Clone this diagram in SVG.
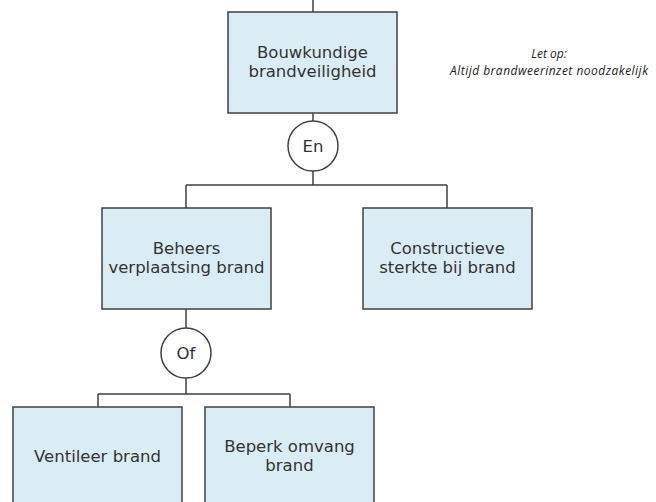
<svg xmlns="http://www.w3.org/2000/svg" width="656" height="502" viewBox="0 0 656 502">
<style>
.box{fill:#dbedf4;stroke:#404040;stroke-width:1.5}
.gate{fill:#ffffff;stroke:#404040;stroke-width:1.5}
.lbl{font-family:"DejaVu Sans",Verdana,sans-serif;font-size:16.5px;fill:#333333;text-anchor:middle}
.note{font-family:"Open Sans","Liberation Sans",sans-serif;font-style:italic;font-size:12px;font-weight:500;fill:#222222;text-anchor:middle}
.conn{fill:none;stroke:#404040;stroke-width:1.5}
</style>
<rect width="656" height="502" fill="#ffffff"/>
<g id="connectors">
<path class="conn" d="M313 0V12"/>
<path class="conn" d="M313 113V121"/>
<path class="conn" d="M313 171V185M186 185H447M186 185V208M447 185V208"/>
<path class="conn" d="M186 309V328"/>
<path class="conn" d="M186 378V394M98 394H290M98 394V407M290 394V407"/>
</g>
<g id="n-bouwkundige">
<rect class="box" x="228" y="12" width="169" height="101"/>
<text class="lbl" x="312.5" y="58">Bouwkundige</text>
<text class="lbl" x="312.5" y="77">brandveiligheid</text>
</g>
<g id="g-en">
<circle class="gate" cx="313" cy="146" r="25"/>
<text class="lbl" x="313" y="152">En</text>
</g>
<g id="n-beheers">
<rect class="box" x="102" y="208" width="169" height="101"/>
<text class="lbl" x="186.5" y="254">Beheers</text>
<text class="lbl" x="186.5" y="273">verplaatsing brand</text>
</g>
<g id="n-constructieve">
<rect class="box" x="363" y="208" width="169" height="101"/>
<text class="lbl" x="447.5" y="254">Constructieve</text>
<text class="lbl" x="447.5" y="273">sterkte bij brand</text>
</g>
<g id="g-of">
<circle class="gate" cx="186" cy="353" r="25"/>
<text class="lbl" x="186" y="359">Of</text>
</g>
<g id="n-ventileer">
<rect class="box" x="13" y="407" width="169" height="101"/>
<text class="lbl" x="97.5" y="462">Ventileer brand</text>
</g>
<g id="n-beperk">
<rect class="box" x="205" y="407" width="169" height="101"/>
<text class="lbl" x="289.5" y="452">Beperk omvang</text>
<text class="lbl" x="289.5" y="471">brand</text>
</g>
<g id="note">
<text class="note" x="549" y="58">Let op:</text>
<text class="note" x="549" y="75" textLength="198" lengthAdjust="spacing">Altijd brandweerinzet noodzakelijk</text>
</g>
</svg>
